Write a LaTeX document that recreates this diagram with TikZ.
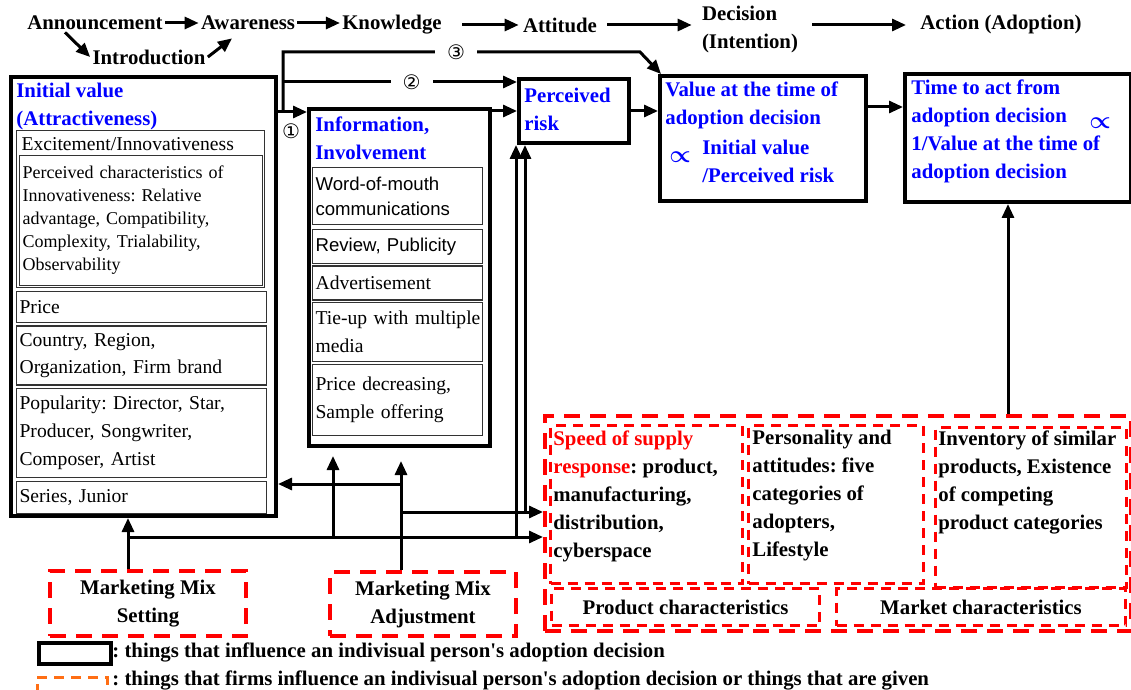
\documentclass[tikz,border=0pt]{standalone}
\usepackage{fontspec}
\setmainfont{Liberation Serif}
\newfontfamily\gothic{Liberation Sans}
\newfontfamily\circfont{DejaVu Sans}
\usepackage{amsmath}
\usetikzlibrary{arrows.meta, positioning}
\frenchspacing

\definecolor{adblue}{RGB}{0,0,255}
\definecolor{adred}{RGB}{255,0,0}
\definecolor{adorange}{RGB}{255,110,20}

\tikzset{
  bigbox/.style={draw, line width=2pt, anchor=north west, inner sep=0pt},
  subbox/.style={draw=black!80, line width=0.6pt, anchor=north west, inner xsep=1.5pt,
                 inner ysep=1pt, align=left, font=\fontsize{9.8}{13.8}\selectfont},
  redbox/.style={draw=adred, line width=2pt, dash pattern=on 8pt off 5pt, anchor=north west},
  reddash/.style={draw=adred, line width=1.5pt, dash pattern=on 5pt off 3.5pt, anchor=north west},
  bftext/.style={font=\fontsize{10.4}{14}\selectfont\bfseries, inner sep=1pt, align=left},
  ttl/.style={bftext, text=adblue},
  arr/.style={-{Triangle[length=7pt,width=6pt]}, line width=1.5pt},
  circ/.style={font=\circfont\fontsize{10}{12}\selectfont, inner sep=0pt},
}

\begin{document}
\begin{tikzpicture}[x=0.5pt, y=-0.5pt]
    \useasboundingbox (0,0) rectangle (1131,690);

    % adoption process stages
    \node[bftext] (ann) at (95,23) {Announcement};
    \node[bftext] (awa) at (248,23) {Awareness};
    \node[bftext] (know) at (392,25) {Knowledge};
    \node[bftext] (att) at (560,25) {Attitude};
    \node[bftext] (dec) at (750,29) {Decision\\(Intention)};
    \node[bftext] (act) at (1001,25) {Action (Adoption)};
    \node[bftext] (intro) at (149,57) {Introduction};
    \draw[arr] (ann) -- (awa);
    \draw[arr] (awa.east) -- (awa.east -| know.west);
    \draw[arr, shorten <=9pt, shorten >=1pt] (know) -- (att);
    \draw[arr, shorten <=4pt, shorten >=4pt] (att) -- (dec.west |- att);
    \draw[arr, shorten <=6pt, shorten >=6pt] (dec.east |- act) -- (act);
    \draw[arr] ([xshift=-15pt]ann.south) -- (intro.west);
    \draw[arr] (intro.east) -- ([xshift=-8pt,yshift=-3pt]awa.south);

    % initial value
    \node[bigbox, minimum width=132.5pt, minimum height=219.5pt] (init) at (9,75) {};
    \node[ttl, anchor=west] (initT) at (14,106.5) {Initial value\\(Attractiveness)};
    \node[subbox, minimum width=124pt, minimum height=78.5pt, inner sep=0pt] (exc) at (16,130) {};
    \node[subbox, draw=none, anchor=west] (excT) at (18,144) {Excitement/Innovativeness};
    \node[subbox, text width=118.5pt, minimum height=65pt, font=\fontsize{9}{11.5}\selectfont]
         (perc) at (19,155) {Perceived characteristics of\\Innovativeness: Relative\\advantage, Compatibility,\\Complexity, Trialability,\\Observability};
    \node[subbox, text width=122pt, minimum height=15.5pt, below right=1.5pt and 0pt of exc.south west] (price) {Price};
    \node[subbox, text width=122pt, minimum height=29.5pt, below right=1pt and 0pt of price.south west]
         (country) {Country, Region,\\Organization, Firm brand};
    \node[subbox, text width=122pt, minimum height=44.5pt, below right=1pt and 0pt of country.south west]
         (pop) {Popularity: Director, Star,\\Producer, Songwriter,\\Composer, Artist};
    \node[subbox, text width=122pt, minimum height=16pt, below right=1.5pt and 0pt of pop.south west] (series) {Series, Junior};

    % information
    \node[bigbox, minimum width=90.5pt, minimum height=168.5pt] (info) at (307,107) {};
    \node[ttl, anchor=west] (infoT) at (313,138) {Information,\\Involvement};
    \node[subbox, text width=82pt, minimum height=28.5pt, font=\gothic\fontsize{9.3}{12.5}\selectfont]
         (wom) at (312,167) {Word-of-mouth\\communications};
    \node[subbox, text width=82pt, minimum height=17pt, font=\gothic\fontsize{9.3}{12.5}\selectfont,
          below right=2pt and 0pt of wom.south west] (rev) {Review, Publicity};
    \node[subbox, text width=82pt, minimum height=17pt, below right=0.5pt and 0pt of rev.south west] (adv) {Advertisement};
    \node[subbox, text width=82pt, minimum height=29.5pt, below right=0.5pt and 0pt of adv.south west]
         (tie) {\mbox{Tie-up with multiple}\\media};
    \node[subbox, text width=82pt, minimum height=35.5pt, below right=1pt and 0pt of tie.south west]
         (pdec) {Price decreasing,\\Sample offering};

    % perceived risk, value, time to act
    \node[bigbox, minimum width=55pt, minimum height=32pt] (risk) at (517,77) {};
    \node[ttl, anchor=west] (riskT) at (522,109) {Perceived\\risk};
    \node[bigbox, minimum width=103pt, minimum height=62.5pt] (value) at (658,74) {};
    \node[ttl, anchor=west] (valT) at (663,105.5) {Value at the time of\\adoption decision};
    \node[ttl, anchor=west] (valR) at (700,161) {Initial value\\/Perceived risk};
    \node[ttl, font=\fontsize{12}{12}\selectfont] (valP) at (680,157) {$\boldsymbol{\propto}$};
    \node[bigbox, minimum width=113pt, minimum height=64pt] (time) at (903,72) {};
    \node[ttl, anchor=west] (timeT) at (909,131.5) {Time to act from\\adoption decision\\1/Value at the time of\\adoption decision};
    \node[ttl, font=\fontsize{12}{12}\selectfont] (timeP) at (1100,123) {$\boldsymbol{\propto}$};

    % product and market characteristics
    \node[redbox, minimum width=293pt, minimum height=107.5pt, inner sep=0pt] (outer) at (543,414) {};
    \node[reddash, minimum width=96pt, minimum height=79pt, inner sep=0pt] (speed) at (549,424) {};
    \node[bftext, anchor=north west] (speedT) at (551,428)
         {\textcolor{adred}{Speed of supply}\\\textcolor{adred}{response}: product,\\manufacturing,\\distribution,\\cyberspace};
    \node[reddash, minimum width=87.5pt, minimum height=79pt, inner sep=0pt] (pers) at (747,424) {};
    \node[bftext, anchor=north west] (persT) at (750,428) {Personality and\\attitudes: five\\categories of\\adopters,\\Lifestyle};
    \node[reddash, minimum width=95.5pt, minimum height=80pt, inner sep=0pt] (inv) at (934,426) {};
    \node[bftext, anchor=north west] (invT) at (936,428) {Inventory of similar\\products, Existence\\of competing\\product categories};
    \node[reddash, bftext, inner sep=0pt, minimum width=134pt, minimum height=18.5pt] (prod) at (550,587) {Product characteristics};
    \node[reddash, bftext, inner sep=0pt, minimum width=144.5pt, minimum height=18.5pt] (mkt) at (835,587) {Market characteristics};

    % marketing mix
    \node[redbox, bftext, align=center, inner sep=0pt, minimum width=98pt, minimum height=32.5pt]
         (setting) at (48,569) {Marketing Mix\\Setting};
    \node[redbox, bftext, align=center, inner sep=0pt, minimum width=93pt, minimum height=32pt]
         (adjust) at (328,570) {Marketing Mix\\Adjustment};

    % routes 1, 2, 3
    \coordinate (jA) at (283,112);
    \coordinate (jB) at (283,52);
    \coordinate (jC) at (640,52);
    \coordinate (jD) at (283,82);
    \draw[arr] (init.east |- jA) -- (info.west |- jA);
    \node[circ] (n1) at (291,131) {①};
    \draw[arr] (jA) -- (jB) -- (jC) node[circ, fill=white, inner xsep=6pt, pos=0.485] (n3) {③}
         -- ([xshift=1.5pt]value.north west);
    \draw[arr] (jD) -- (risk.west |- jD) node[circ, fill=white, inner xsep=6pt, pos=0.55] (n2) {②};
    \draw[arr] (info.north east |- risk.west) -- (risk.west);
    \draw[arr] (risk.east) -- (value.west |- risk.east);
    \coordinate (jV) at ([yshift=-16.5pt]value.north east);
    \draw[arr] (jV) -- (time.west |- jV);
    \coordinate (jT) at (1008,414);
    \draw[arr] (jT) -- (time.south -| jT);

    % marketing mix influences
    \coordinate (jS) at (128,537);
    \coordinate (jI) at (333,537);
    \coordinate (jR1) at (516,537);
    \coordinate (jM) at (401,484);
    \coordinate (jU) at (401,512);
    \coordinate (jR2) at (525,512);
    \draw[arr] (setting.north -| jS) -- (init.south -| jS);
    \draw[arr] (jS) -- (outer.west |- jS);
    \draw[arr] (jI) -- ([yshift=-4pt]info.south -| jI);
    \draw[arr] (jR1) -- (risk.south -| jR1);
    \draw[arr] (adjust.north -| jM) -- ([yshift=-6.5pt]info.south -| jM);
    \draw[arr] (jM) -- (init.east |- jM);
    \draw[arr] (jU) -- (outer.west |- jU);
    \draw[arr] (jR2) -- (risk.south -| jR2);

    % legend
    \node[bigbox, minimum width=36pt, minimum height=10.5pt] (lgA) at (37,641) {};
    \node[bftext, anchor=west] (lgAT) at (110,652)
         {: things that influence an indivisual person\textquotesingle s adoption decision};
    \draw[adorange, line width=1.5pt, dash pattern=on 5pt off 3.5pt] (37,694) -- (37,677) -- (107,677) -- (107,694);
    \node[bftext, anchor=west] (lgBT) at (110,680)
         {: things that firms influence an indivisual person\textquotesingle s adoption decision or things that are given};
\end{tikzpicture}
\end{document}
